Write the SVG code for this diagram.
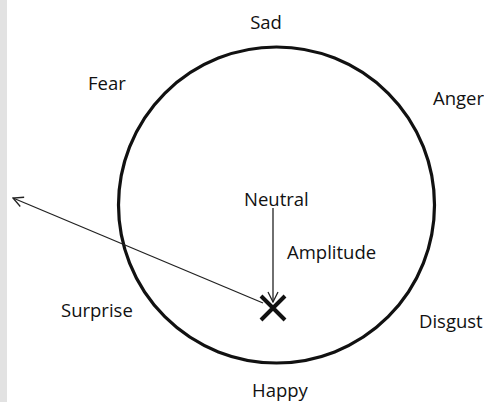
<svg xmlns="http://www.w3.org/2000/svg" width="484" height="402" viewBox="0 0 484 402">
  <style>
    .lbl { font-family: "Open Sans", "Liberation Sans", sans-serif; font-size: 18.5px; fill: #111; }
    .conn { stroke: #222; stroke-width: 1.3; fill: none; }
  </style>
  <defs>
    <marker id="open" viewBox="0 0 12 12" refX="11" refY="6" markerWidth="12" markerHeight="12" markerUnits="userSpaceOnUse" orient="auto">
      <path d="M1,1 L11,6 L1,11" fill="none" stroke="#222" stroke-width="1.3"/>
    </marker>
  </defs>
  <rect x="0" y="0" width="484" height="402" fill="#ffffff"/>
  <rect x="0" y="0" width="7" height="402" fill="#e2e2e2"/>
  <g id="wheel">
    <circle cx="276.5" cy="205" r="158" fill="none" stroke="#111" stroke-width="3.2"/>
  </g>
  <g id="sad"><text class="lbl" x="266" y="29" text-anchor="middle">Sad</text></g>
  <g id="fear"><text class="lbl" x="88" y="90">Fear</text></g>
  <g id="anger"><text class="lbl" x="433" y="105">Anger</text></g>
  <g id="neutral"><text class="lbl" x="244" y="206">Neutral</text></g>
  <g id="amplitude"><text class="lbl" x="287" y="259">Amplitude</text></g>
  <g id="surprise"><text class="lbl" x="61" y="317">Surprise</text></g>
  <g id="disgust"><text class="lbl" x="419" y="328">Disgust</text></g>
  <g id="happy"><text class="lbl" x="252" y="397">Happy</text></g>
  <g id="point">
    <path d="M261,296 L285,320 M285,296 L261,320" stroke="#111" stroke-width="4" fill="none"/>
  </g>
  <g id="connectors">
    <line class="conn" x1="273" y1="208" x2="273" y2="302" marker-end="url(#open)"/>
    <line class="conn" x1="263" y1="303" x2="13" y2="198" marker-end="url(#open)"/>
  </g>
</svg>
